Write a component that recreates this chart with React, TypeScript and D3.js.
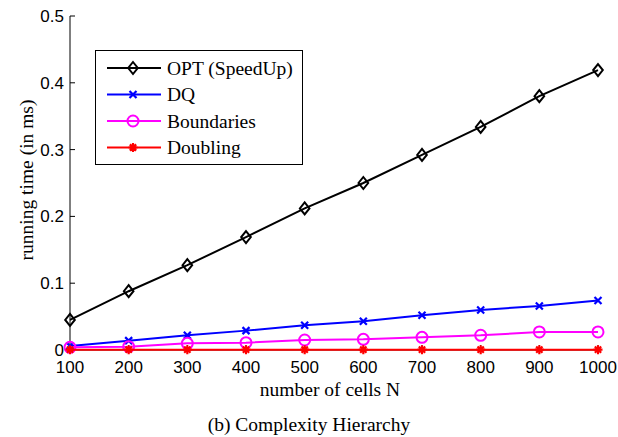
import React from "react";
import * as d3 from "d3";

const cells = [100, 200, 300, 400, 500, 600, 700, 800, 900, 1000];
const optSpeedUp = [0.045, 0.088, 0.127, 0.169, 0.212, 0.25, 0.292, 0.334, 0.38, 0.419];
const dq = [0.006, 0.014, 0.022, 0.029, 0.037, 0.043, 0.052, 0.06, 0.066, 0.074];
const boundaries = [0.004, 0.005, 0.01, 0.011, 0.015, 0.016, 0.019, 0.022, 0.027, 0.027];
const doubling = [0.0005, 0.0005, 0.0005, 0.0005, 0.0005, 0.0005, 0.0005, 0.0005, 0.0005, 0.0005];
const yTicks = [0, 0.1, 0.2, 0.3, 0.4, 0.5];
const xTicks = [100, 200, 300, 400, 500, 600, 700, 800, 900, 1000];

const seriesNames = ["OPT (SpeedUp)", "DQ", "Boundaries", "Doubling"];
const seriesColors = ["#000000", "#0000ff", "#ff00ff", "#ff0000"];
const seriesMarkers = ["diamond", "x", "circle", "star"];
const seriesData = [optSpeedUp, dq, boundaries, doubling];

function Marker({ type, x, y, color }: { type: string; x: number; y: number; color: string }) {
  if (type === "diamond") {
    const s = 6;
    return <path d={`M${x},${y - s}L${x + s * 0.8},${y}L${x},${y + s}L${x - s * 0.8},${y}Z`} fill="none" stroke={color} strokeWidth={2} />;
  }
  if (type === "circle") {
    return <circle cx={x} cy={y} r={5.5} fill="none" stroke={color} strokeWidth={2} />;
  }
  if (type === "x") {
    const s = 3.5;
    return <path d={`M${x - s},${y - s}L${x + s},${y + s}M${x - s},${y + s}L${x + s},${y - s}`} stroke={color} strokeWidth={2.2} />;
  }
  const s = 4.5;
  const d = s * 0.7;
  return (
    <path
      d={`M${x - s},${y}L${x + s},${y}M${x},${y - s}L${x},${y + s}M${x - d},${y - d}L${x + d},${y + d}M${x - d},${y + d}L${x + d},${y - d}`}
      stroke={color}
      strokeWidth={2.2}
    />
  );
}

export default function App() {
  const W = 618, H = 437;
  const x = d3.scaleLinear().domain([100, 1000]).range([70, 598]);
  const y = d3.scaleLinear().domain([0, 0.5]).range([350, 16]);
  const line = d3.line<number>().x((_, i) => x(cells[i])).y((v) => y(v));
  const sans = "'Liberation Sans', Arial, sans-serif";
  const serif = "'Liberation Serif', 'Times New Roman', serif";
  return (
    <svg width={W} height={H} style={{ position: "absolute", left: 0, top: 0 }}>
      <rect width={W} height={H} fill="#fff" />
      {/* axes */}
      <line x1={70} y1={16} x2={70} y2={350} stroke="#000" strokeWidth={1} />
      <line x1={70} y1={350} x2={598} y2={350} stroke="#000" strokeWidth={1} />
      {yTicks.map((t) => (
        <g key={"y" + t}>
          <line x1={70} x2={75} y1={y(t)} y2={y(t)} stroke="#000" />
          <text x={64} y={y(t)} dy="0.35em" textAnchor="end" fontFamily={sans} fontSize={17}>
            {t === 0 ? "0" : t.toFixed(1)}
          </text>
        </g>
      ))}
      {xTicks.map((t) => (
        <g key={"x" + t}>
          <line x1={x(t)} x2={x(t)} y1={350} y2={345} stroke="#000" />
          <text x={x(t)} y={373} textAnchor="middle" fontFamily={sans} fontSize={17}>
            {t}
          </text>
        </g>
      ))}
      {/* series */}
      {seriesData.map((data, si) => (
        <g key={si}>
          <path d={line(data) || ""} fill="none" stroke={seriesColors[si]} strokeWidth={2} />
          {data.map((v, i) => (
            <Marker key={i} type={seriesMarkers[si]} x={x(cells[i])} y={y(v)} color={seriesColors[si]} />
          ))}
        </g>
      ))}
      {/* legend */}
      <rect x={95.5} y={50.5} width={207} height={114} fill="#fff" stroke="#000" strokeWidth={1} />
      {seriesNames.map((n, i) => {
        const ly = 68 + i * 26.5;
        return (
          <g key={n}>
            <line x1={107} x2={161} y1={ly} y2={ly} stroke={seriesColors[i]} strokeWidth={2} />
            <Marker type={seriesMarkers[i]} x={133} y={ly} color={seriesColors[i]} />
            <text x={167} y={ly + 6.5} fontFamily={serif} fontSize={19.5}>
              {n}
            </text>
          </g>
        );
      })}
      {/* labels */}
      <text x={330} y={396} textAnchor="middle" fontFamily={serif} fontSize={19.5}>
        number of cells N
      </text>
      <text transform={`translate(33,180) rotate(-90)`} textAnchor="middle" fontFamily={serif} fontSize={19.5}>
        running time (in ms)
      </text>
      <text x={309} y={431} textAnchor="middle" fontFamily={serif} fontSize={19.5}>
        (b) Complexity Hierarchy
      </text>
    </svg>
  );
}
